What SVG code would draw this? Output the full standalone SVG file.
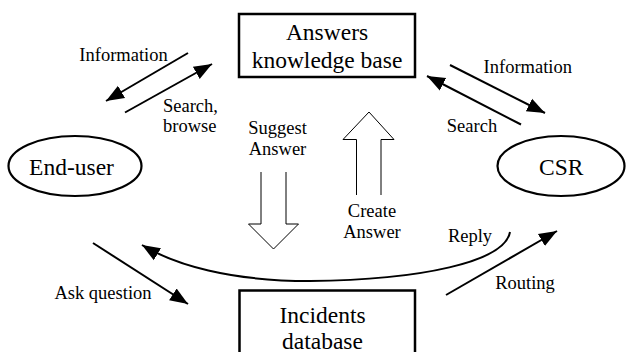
<svg xmlns="http://www.w3.org/2000/svg" width="627" height="352" viewBox="0 0 627 352">
<style>
.node{fill:#fff;stroke:#000;stroke-width:2.5}
.ell{fill:#fff;stroke:#000;stroke-width:2.2}
.nt{font-family:'Liberation Serif','Times New Roman',serif;font-size:23.5px;fill:#000;text-anchor:middle}
.lb{font-family:'Liberation Serif','Times New Roman',serif;font-size:18.5px;fill:#000;text-anchor:middle}
.ar{fill:none;stroke:#000;stroke-width:2;marker-end:url(#ah)}
.blk{fill:#fff;stroke:#000;stroke-width:1}
</style>
<defs>
<marker id="ah" markerUnits="userSpaceOnUse" markerWidth="20" markerHeight="20" viewBox="0 0 20 20" refX="18" refY="10" orient="auto">
<path d="M0,3 L18,10 L0,17 Z" fill="#000"/>
</marker>
</defs>
<rect width="627" height="352" fill="#fff"/>
<g id="answers-kb">
<rect class="node" x="239" y="14" width="176" height="63"/>
<text class="nt" x="327" y="40">Answers</text>
<text class="nt" x="327" y="68">knowledge base</text>
</g>
<g id="incidents-db">
<rect class="node" x="239.5" y="290.5" width="175.5" height="72"/>
<text class="nt" x="322.5" y="323">Incidents</text>
<text class="nt" x="322.5" y="348.5">database</text>
</g>
<g id="end-user">
<ellipse class="ell" cx="75" cy="166" rx="66.5" ry="30"/>
<text class="nt" x="71.5" y="175">End-user</text>
</g>
<g id="csr">
<ellipse class="ell" cx="561" cy="166" rx="63.5" ry="30"/>
<text class="nt" x="561.3" y="175">CSR</text>
</g>
<g id="connectors">
<line class="ar" x1="188" y1="53" x2="106" y2="101"/>
<line class="ar" x1="125" y1="112.5" x2="212" y2="64"/>
<line class="ar" x1="450" y1="65" x2="545" y2="113"/>
<line class="ar" x1="521" y1="124.5" x2="427" y2="76"/>
<line class="ar" x1="93" y1="243" x2="188" y2="304"/>
<line class="ar" x1="446" y1="295" x2="557" y2="231"/>
<path class="ar" d="M510,232 C505,262 420,280 310,281 C230,281 175,265 142,245"/>
<path class="blk" d="M261,172 V224 H248.5 L273.5,249 L298.5,224 H286 V172"/>
<path class="blk" d="M356.5,195 V139.5 H343 L369,112 L394,139.5 H381 V195"/>
</g>
<g id="labels">
<text class="lb" x="123.5" y="61">Information</text>
<text class="lb" x="163" y="112" style="text-anchor:start">Search,</text>
<text class="lb" x="163" y="132" style="text-anchor:start">browse</text>
<text class="lb" x="527.8" y="72.5">Information</text>
<text class="lb" x="472" y="131.5">Search</text>
<text class="lb" x="277.5" y="133.5">Suggest</text>
<text class="lb" x="277.5" y="155">Answer</text>
<text class="lb" x="372" y="216.5">Create</text>
<text class="lb" x="372" y="238">Answer</text>
<text class="lb" x="470" y="242">Reply</text>
<text class="lb" x="525" y="288.5">Routing</text>
<text class="lb" x="103" y="298.5">Ask question</text>
</g>
</svg>
